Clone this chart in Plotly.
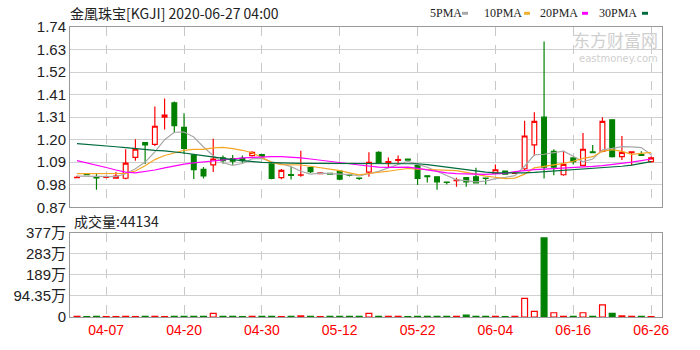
import plotly.graph_objects as go

dates = ["04-02","04-03","04-06","04-07","04-08","04-09","04-13","04-14","04-15","04-16",
         "04-17","04-20","04-21","04-22","04-23","04-24","04-27","04-28","04-29","04-30",
         "05-01","05-04","05-05","05-06","05-07","05-08","05-11","05-12","05-13","05-14",
         "05-15","05-18","05-19","05-20","05-21","05-22","05-26","05-27","05-28","05-29",
         "06-01","06-02","06-03","06-04","06-05","06-08","06-09","06-10","06-11","06-12",
         "06-15","06-16","06-17","06-18","06-19","06-22","06-23","06-24","06-25","06-26"]

open_ = [1.013,1.029,1.018,1.014,1.010,1.010,1.111,1.182,1.174,1.305,
         1.374,1.256,1.122,1.053,1.075,1.108,1.105,1.106,1.119,1.124,
         1.079,1.013,1.028,1.025,1.061,1.032,1.034,1.044,1.027,1.011,
         1.040,1.135,1.085,1.096,1.103,1.072,1.022,1.017,0.992,0.999,
         1.013,1.017,1.011,1.035,1.045,1.033,1.056,1.171,1.305,1.140,
         1.027,1.108,1.072,1.137,1.140,1.292,1.114,1.133,1.124,1.090]
close = [1.015,1.027,1.012,1.017,1.020,1.083,1.150,1.171,1.261,1.315,
         1.264,1.154,1.051,1.021,1.103,1.095,1.092,1.095,1.135,1.114,
         1.009,1.048,1.024,1.027,1.042,1.036,1.030,1.006,1.025,1.009,
         1.087,1.087,1.090,1.100,1.098,1.009,1.018,0.993,0.990,1.001,
         0.993,0.988,1.009,1.051,1.030,1.035,1.214,1.285,1.064,1.064,
         1.077,1.090,1.150,1.133,1.285,1.114,1.135,1.137,1.120,1.108]
high = [1.022,1.030,1.032,1.022,1.040,1.150,1.198,1.185,1.356,1.395,
        1.380,1.324,1.125,1.064,1.201,1.120,1.122,1.120,1.140,1.126,
        1.080,1.055,1.064,1.143,1.065,1.040,1.036,1.050,1.032,1.014,
        1.135,1.140,1.110,1.120,1.105,1.080,1.024,1.020,0.994,1.013,
        1.015,1.061,1.013,1.077,1.047,1.040,1.287,1.329,1.670,1.150,
        1.143,1.112,1.229,1.171,1.304,1.295,1.214,1.140,1.140,1.115]
low = [1.010,1.024,0.954,1.010,1.008,1.005,1.095,1.079,1.166,1.245,
       1.229,1.127,1.006,1.009,1.040,1.080,1.075,1.085,1.115,1.112,
       1.005,1.005,1.004,1.017,1.035,1.030,1.028,1.000,1.018,1.002,
       1.017,1.080,1.060,1.080,1.096,0.977,0.990,0.954,0.980,0.969,
       0.969,0.985,0.980,1.030,1.027,1.030,1.050,1.119,1.009,1.025,
       1.022,1.077,1.068,1.133,1.135,1.110,1.098,1.072,1.118,1.085]

ma5 = [1.020,1.020,1.018,1.018,1.018,1.032,1.056,1.088,1.137,1.196,
       1.232,1.233,1.209,1.161,1.119,1.085,1.072,1.081,1.104,1.106,
       1.089,1.080,1.066,1.044,1.030,1.035,1.032,1.028,1.028,1.021,
       1.031,1.043,1.060,1.075,1.092,1.077,1.063,1.044,1.022,1.002,
       0.999,0.993,0.996,1.008,1.014,1.023,1.068,1.123,1.126,1.132,
       1.141,1.116,1.089,1.103,1.147,1.154,1.163,1.161,1.158,1.123]
ma10 = [1.032,1.032,1.032,1.032,1.032,1.034,1.045,1.070,1.100,1.120,
        1.132,1.145,1.149,1.149,1.157,1.159,1.153,1.145,1.133,1.112,
        1.087,1.076,1.074,1.074,1.068,1.062,1.056,1.047,1.036,1.026,
        1.033,1.037,1.044,1.051,1.057,1.054,1.053,1.052,1.048,1.047,
        1.038,1.028,1.020,1.015,1.008,1.011,1.030,1.060,1.067,1.073,
        1.082,1.092,1.106,1.114,1.140,1.148,1.140,1.125,1.131,1.135]
ma20 = [1.095,1.085,1.074,1.062,1.050,1.040,1.036,1.042,1.050,1.060,
        1.070,1.078,1.084,1.088,1.093,1.098,1.103,1.108,1.111,1.113,
        1.114,1.114,1.112,1.108,1.103,1.098,1.092,1.086,1.080,1.074,
        1.068,1.064,1.063,1.064,1.064,1.058,1.050,1.042,1.036,1.032,
        1.030,1.029,1.029,1.031,1.034,1.042,1.048,1.052,1.054,1.056,
        1.058,1.061,1.064,1.067,1.071,1.076,1.082,1.088,1.095,1.103]
ma30 = [1.177,1.174,1.170,1.166,1.162,1.158,1.153,1.148,1.145,1.142,
        1.138,1.132,1.125,1.118,1.112,1.105,1.100,1.095,1.090,1.087,
        1.085,1.083,1.083,1.082,1.082,1.082,1.081,1.081,1.081,1.081,
        1.081,1.081,1.081,1.080,1.080,1.080,1.076,1.070,1.063,1.056,
        1.050,1.044,1.040,1.036,1.035,1.035,1.036,1.038,1.041,1.044,
        1.047,1.050,1.053,1.056,1.060,1.064,1.068,1.073,1.080,1.090]

# volume in 万 shares
volume = [3,2,3,2,2,3,2,3,3,2,
          3,3,3,3,16,3,3,2,3,3,
          3,2,3,5,3,2,3,3,3,3,
          16,3,3,3,2,3,3,3,3,3,
          8,3,3,3,2,3,83,25,354,19,
          3,3,19,3,54,16,5,3,3,2]
vol_dir = ["u" if c >= o else "d" for o, c in zip(open_, close)]
vol_dir[49] = "u"

tick_labels = ["04-07","04-20","04-30","05-12","05-22","06-04","06-16","06-26"]
price_ticks = ["0.87","0.98","1.09","1.20","1.31","1.41","1.52","1.63","1.74"]
vol_ticks = ["0","94.35万","189万","283万","377万"]

RED = "#ff0000"
GREEN = "#008000"
FONT = "Liberation Sans, Noto Sans CJK SC, sans-serif"

xs = list(range(len(dates)))
tickpos = [dates.index(d) for d in tick_labels]

fig = go.Figure()
fig.add_trace(go.Candlestick(
    x=xs, open=open_, high=high, low=low, close=close,
    increasing=dict(line=dict(color=RED, width=1.2), fillcolor="white"),
    decreasing=dict(line=dict(color=GREEN, width=1.2), fillcolor=GREEN),
    whiskerwidth=0, xaxis="x", yaxis="y", showlegend=False, hoverinfo="skip"))

for vals, col in [(ma5, "#a8a8a8"), (ma10, "#f5a623"), (ma20, "#ff00ff"), (ma30, "#006b3c")]:
    fig.add_trace(go.Scatter(x=xs, y=vals, mode="lines", line=dict(color=col, width=1.2),
                             xaxis="x", yaxis="y", showlegend=False, hoverinfo="skip"))

fig.add_trace(go.Bar(
    x=xs, y=volume, width=0.6,
    marker=dict(color=["white" if d == "u" else GREEN for d in vol_dir],
                line=dict(color=[RED if d == "u" else GREEN for d in vol_dir], width=1.2)),
    xaxis="x2", yaxis="y2", showlegend=False, hoverinfo="skip"))

W, H = 700, 350
L, R, T, B = 70, 662, 27, 323

def fx(px):
    return (px - L) / (R - L)

def fy(py):
    return (B - py) / (B - T)

xr = [-0.72, 60.12]
common_x = dict(range=xr, tickmode="array", tickvals=tickpos, showgrid=True,
                gridcolor="#c8c8c8", griddash="dash", gridwidth=1, zeroline=False,
                showline=True, mirror=True, linecolor="#999999", ticks="")
price_vals = [0.87 + k * 0.10875 for k in range(9)]
vol_vals = [k * 94.35 for k in range(5)]

fig.update_layout(
    width=W, height=H, margin=dict(l=L, r=W - R, t=T, b=H - B),
    paper_bgcolor="white", plot_bgcolor="white",
    font=dict(family=FONT, color="#222222"),
    xaxis=dict(common_x, domain=[0, 1], anchor="y", showticklabels=False, rangeslider=dict(visible=False)),
    yaxis=dict(domain=[fy(211), 1], range=[0.87, 1.74], tickmode="array", tickvals=price_vals,
               ticktext=price_ticks, showgrid=True, gridcolor="#d0d0d0", zeroline=False,
               showline=True, mirror=True, linecolor="#999999", ticks="",
               tickfont=dict(size=15, color="#222222")),
    xaxis2=dict(common_x, domain=[0, 1], anchor="y2", ticktext=tick_labels,
                tickfont=dict(size=14, color=RED)),
    yaxis2=dict(domain=[0, fy(237)], range=[0, 377.4], tickmode="array", tickvals=vol_vals,
                ticktext=vol_ticks, showgrid=True, gridcolor="#d0d0d0", zeroline=False,
                showline=True, mirror=True, linecolor="#999999", ticks="",
                tickfont=dict(size=15, color="#222222")),
    bargap=0.4,
)

ann = []
ann.append(dict(x=fx(68), y=fy(13), xref="paper", yref="paper", xanchor="left", yanchor="middle",
                text="金凰珠宝[KGJI] 2020-06-27 04:00", showarrow=False,
                font=dict(size=14, color="#222222", family="Noto Sans CJK SC, Liberation Mono")))
ann.append(dict(x=fx(72), y=fy(225), xref="paper", yref="paper", xanchor="left", yanchor="middle",
                text="成交量:44134", showarrow=False,
                font=dict(size=14, color="#222222", family="Noto Sans CJK SC, Liberation Sans")))
legend_items = [("5PMA", 428, 462, "#a8a8a8"), ("10PMA", 482, 524, "#f0b030"),
                ("20PMA", 538, 582, "#ff00ff"), ("30PMA", 597, 642, "#006b3c")]
shapes = []
for name, tx, mx, col in legend_items:
    ann.append(dict(x=fx(tx), y=fy(13), xref="paper", yref="paper", xanchor="left", yanchor="middle",
                    text=name, showarrow=False, font=dict(size=12, color="#222222", family="Liberation Serif")))
    shapes.append(dict(type="rect", xref="paper", yref="paper", x0=fx(mx), x1=fx(mx + 6),
                       y0=fy(11.5), y1=fy(14.5), fillcolor=col, line=dict(width=0)))
ann.append(dict(x=fx(660), y=fy(40), xref="paper", yref="paper", xanchor="right", yanchor="middle",
                text="东方财富网", showarrow=False,
                font=dict(size=17, color="#cfcfcf", family="Noto Sans CJK SC")))
ann.append(dict(x=fx(660), y=fy(59), xref="paper", yref="paper", xanchor="right", yanchor="middle",
                text="eastmoney.com", showarrow=False,
                font=dict(size=10, color="#cfcfcf", family="DejaVu Sans")))
fig.update_layout(annotations=ann, shapes=shapes)

fig.write_html("out.html")
